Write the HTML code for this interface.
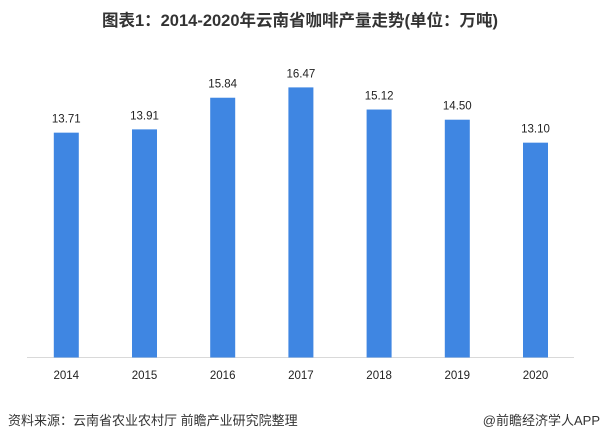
<!DOCTYPE html>
<html><head><meta charset="utf-8"><style>
body{margin:0;background:#fff;width:601px;height:440px;overflow:hidden;font-family:"Liberation Sans","Noto Sans CJK SC",sans-serif}
</style></head><body>
<svg width="601" height="440" xmlns="http://www.w3.org/2000/svg">
<text x="300" y="26" text-anchor="middle" font-size="16.5" font-weight="bold" fill="#333" font-family="Liberation Sans, Noto Sans CJK SC, sans-serif">图表1：2014-2020年云南省咖啡产量走势(单位：万吨)</text>
<line x1="27" y1="357.5" x2="574" y2="357.5" stroke="#d9d9d9" stroke-width="1"/>
<g id="bars"></g>
<text x="8" y="425" font-size="13" fill="#333">资料来源：云南省农业农村厅 前瞻产业研究院整理</text>
<text x="600" y="425" text-anchor="end" font-size="13" fill="#333">@前瞻经济学人APP</text>
</svg>
<script>
const categories=["2014","2015","2016","2017","2018","2019","2020"];
const values=[13.71,13.91,15.84,16.47,15.12,14.50,13.10];
const labels=["13.71","13.91","15.84","16.47","15.12","14.50","13.10"];
const NS="http://www.w3.org/2000/svg";
const base=357.5, k=16.4, x0=66.3, step=78.2, bw=25;
const xs=i=>x0+i*step, ys=v=>base-v*k;
const g=document.getElementById('bars');
values.forEach((v,i)=>{
 const r=document.createElementNS(NS,'rect');
 r.setAttribute('x',xs(i)-bw/2);r.setAttribute('y',ys(v));
 r.setAttribute('width',bw);r.setAttribute('height',base-ys(v));
 r.setAttribute('fill','#3f86e2');
 
 
 g.appendChild(r);
 const t=document.createElementNS(NS,'text');
 t.setAttribute('x',xs(i));t.setAttribute('y',ys(v)-10);
 t.setAttribute('text-anchor','middle');t.setAttribute('font-size','11.5');t.setAttribute('fill','#222');
 t.textContent=labels[i];
 
 
 g.appendChild(t);
 const c=document.createElementNS(NS,'text');
 c.setAttribute('x',xs(i));c.setAttribute('y',379);
 c.setAttribute('text-anchor','middle');c.setAttribute('font-size','11.5');c.setAttribute('fill','#222');
 c.textContent=categories[i];
 
 
 g.appendChild(c);
});
</script>
</body></html>
